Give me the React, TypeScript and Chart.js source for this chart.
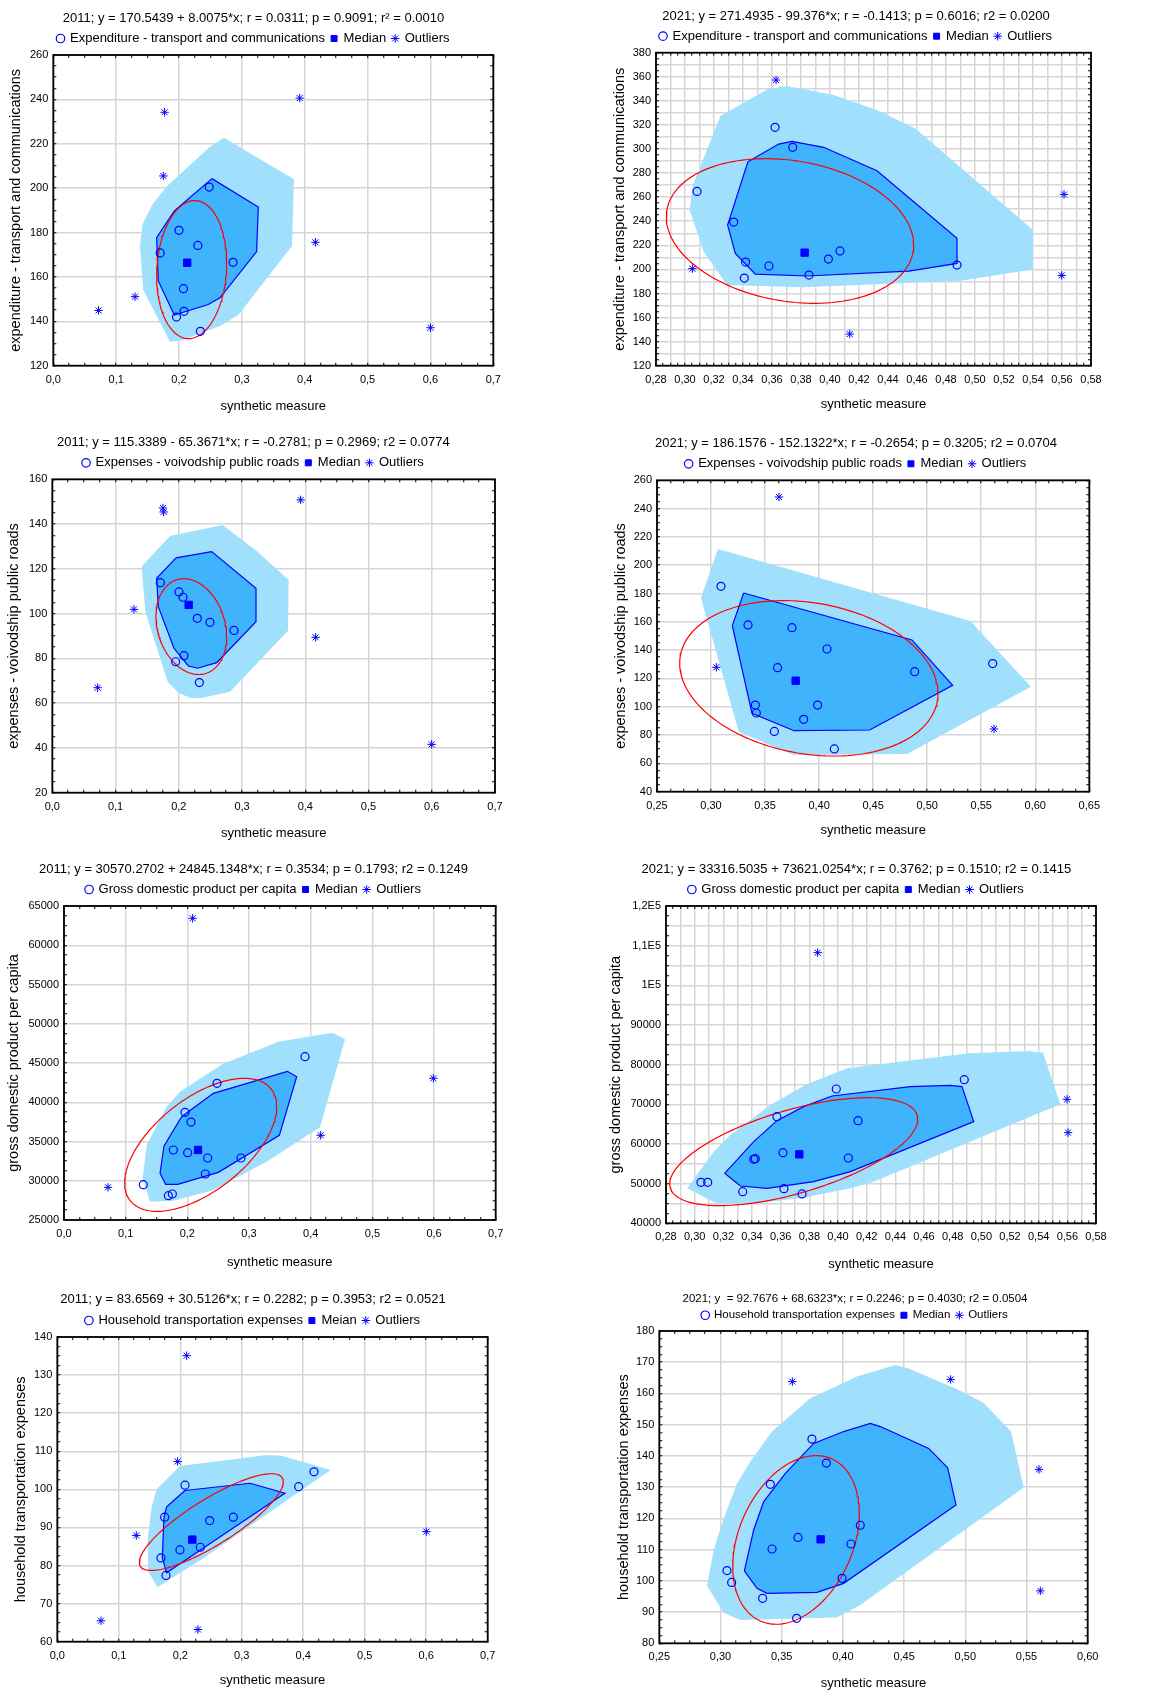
import React, { useEffect, useRef } from 'react';
import { Chart, registerables } from 'chart.js';

Chart.register(...registerables);
Chart.defaults.font.family = "'Liberation Sans', Arial, Helvetica, sans-serif";
Chart.defaults.color = '#000';

// ---------------- shared tick labels ----------------
const xTicks07 = ['0,0', '0,1', '0,2', '0,3', '0,4', '0,5', '0,6', '0,7'];
const xTicks2858 = ['0,28', '0,30', '0,32', '0,34', '0,36', '0,38', '0,40', '0,42', '0,44', '0,46', '0,48', '0,50', '0,52', '0,54', '0,56', '0,58'];
const xTicks2565 = ['0,25', '0,30', '0,35', '0,40', '0,45', '0,50', '0,55', '0,60', '0,65'];
const xTicks2560 = ['0,25', '0,30', '0,35', '0,40', '0,45', '0,50', '0,55', '0,60'];

const xTitle = 'synthetic measure';

// ---------------- Panel 1 (2011, transport & communications) ----------------
const p1Title = '2011; y = 170.5439 + 8.0075*x; r = 0.0311; p = 0.9091; r² = 0.0010';
const p1Series = 'Expenditure - transport and communications';
const p1YTitle = 'expenditure - transport and communications';
const p1YTicks = ['120', '140', '160', '180', '200', '220', '240', '260'];
const p1Points = [[0.248, 200.5], [0.2, 181.0], [0.23, 174.2], [0.17, 170.8], [0.286, 166.6], [0.207, 154.7], [0.208, 144.5], [0.196, 141.9], [0.234, 135.5]];
const p1Median = [0.213, 166.4];
const p1Outliers = [[0.177, 234.2], [0.392, 240.6], [0.175, 205.5], [0.417, 175.6], [0.13, 151.1], [0.072, 144.9], [0.6, 137.1]];
const p1Bag = [[0.2524, 204.3], [0.3261, 191.5], [0.3235, 171.4], [0.2652, 150.6], [0.2466, 147.6], [0.1925, 142.8], [0.167, 158.2], [0.1644, 177.7], [0.1925, 189.7]];
const p1Fence = [[0.2715, 222.7], [0.3829, 204.0], [0.3797, 173.9], [0.2943, 142.8], [0.2652, 137.9], [0.2042, 131.3], [0.1856, 130.8], [0.1432, 154.1], [0.1379, 173.6], [0.1416, 183.4], [0.158, 192.9], [0.1803, 200.7], [0.2492, 218.7]];
const p1Ellipse = [0.2201, 163.3, 0.2758, 166.1, 194.4];

// ---------------- Panel 2 (2021, transport & communications) ----------------
const p2Title = '2021; y = 271.4935 - 99.376*x; r = -0.1413; p = 0.6016; r2 = 0.0200';
const p2Series = 'Expenditure - transport and communications';
const p2YTitle = 'expenditure - transport and communications';
const p2YTicks = ['120', '140', '160', '180', '200', '220', '240', '260', '280', '300', '320', '340', '360', '380'];
const p2Points = [[0.3621, 318.0], [0.3743, 301.4], [0.3083, 264.8], [0.3336, 239.3], [0.3418, 206.1], [0.3579, 202.8], [0.3409, 192.8], [0.3855, 195.3], [0.3989, 208.6], [0.4069, 215.3], [0.4876, 203.6]];
const p2Median = [0.3825, 213.9];
const p2Outliers = [[0.3628, 357.3], [0.5614, 262.3], [0.3051, 200.6], [0.5598, 195.0], [0.4136, 146.3]];
const p2Bag = [[0.3434, 289.5], [0.3646, 304.1], [0.3738, 306.4], [0.3956, 301.4], [0.4324, 282.0], [0.4876, 225.8], [0.4876, 205.0], [0.4543, 198.6], [0.3841, 194.5], [0.3485, 196.1], [0.3347, 213.3], [0.3294, 236.8]];
const p2Fence = [[0.3244, 327.4], [0.3566, 349.5], [0.3703, 352.3], [0.4025, 344.8], [0.4324, 332.4], [0.4589, 317.1], [0.54, 232.7], [0.54, 200.0], [0.4899, 190.6], [0.3818, 185.1], [0.329, 187.0], [0.3129, 214.7], [0.3032, 249.3], [0.3051, 268.7]];
const p2Ellipse = [0.3724, 231.9, 0.4577, 220.2, 292.0];

// ---------------- Panel 3 (2011, voivodship public roads) ----------------
const p3Title = '2011; y = 115.3389 - 65.3671*x; r = -0.2781; p = 0.2969; r2 = 0.0774';
const p3Series = 'Expenses - voivodship public roads';
const p3YTitle = 'expenses - voivodship public roads';
const p3YTicks = ['20', '40', '60', '80', '100', '120', '140', '160'];
const p3Points = [[0.1708, 113.8], [0.2003, 109.7], [0.2066, 107.3], [0.2293, 97.9], [0.2493, 96.1], [0.2873, 92.5], [0.2082, 81.2], [0.195, 78.5], [0.2325, 69.2]];
const p3Median = [0.2156, 103.9];
const p3Outliers = [[0.175, 147.2], [0.176, 145.4], [0.3927, 150.8], [0.1291, 101.9], [0.4164, 89.4], [0.0717, 66.9], [0.5999, 41.6]];
const p3Bag = [[0.1956, 124.9], [0.252, 127.7], [0.3221, 111.3], [0.3221, 96.4], [0.2599, 78.1], [0.2298, 75.6], [0.2151, 76.6], [0.1924, 84.5], [0.1676, 103.1], [0.165, 115.8]];
const p3Fence = [[0.1413, 121.0], [0.1861, 134.7], [0.2694, 139.6], [0.3231, 128.0], [0.3737, 115.0], [0.3727, 92.4], [0.281, 65.1], [0.2335, 62.2], [0.2177, 62.4], [0.1993, 64.7], [0.1824, 69.6], [0.1471, 100.9]];
const p3Ellipse = [0.2198, 94.2, 0.2757, 89.7, 115.6];

// ---------------- Panel 4 (2021, voivodship public roads) ----------------
const p4Title = '2021; y = 186.1576 - 152.1322*x; r = -0.2654; p = 0.3205; r2 = 0.0704';
const p4Series = 'Expenses - voivodship public roads';
const p4YTitle = 'expenses - voivodship public roads';
const p4YTicks = ['40', '60', '80', '100', '120', '140', '160', '180', '200', '220', '240', '260'];
const p4Points = [[0.3092, 185.1], [0.3342, 157.8], [0.3749, 155.9], [0.4073, 140.8], [0.3616, 127.6], [0.4884, 124.8], [0.5606, 130.5], [0.341, 101.2], [0.3419, 95.6], [0.3986, 101.2], [0.3857, 91.1], [0.3586, 82.6], [0.4141, 70.2]];
const p4Median = [0.3783, 118.4];
const p4Outliers = [[0.3629, 248.2], [0.3049, 127.9], [0.5618, 84.3]];
const p4Bag = [[0.3302, 180.4], [0.4859, 147.2], [0.5236, 115.1], [0.4468, 83.6], [0.3768, 83.1], [0.3379, 95.4], [0.3197, 157.3]];
const p4Fence = [[0.3064, 211.5], [0.5399, 160.6], [0.596, 114.2], [0.4813, 66.6], [0.3764, 65.9], [0.3256, 82.4], [0.2907, 177.1]];
const p4Ellipse = [0.3905, 120.1, 0.51, 109.5, 175.0];

// ---------------- Panel 5 (2011, GDP per capita) ----------------
const p5Title = '2011; y = 30570.2702 + 24845.1348*x; r = 0.3534; p = 0.1793; r2 = 0.1249';
const p5Series = 'Gross domestic product per capita';
const p5YTitle = 'gross domestic product per capita';
const p5YTicks = ['25000', '30000', '35000', '40000', '45000', '50000', '55000', '60000', '65000'];
const p5Points = [[0.3908, 45800], [0.2481, 42410], [0.1962, 38720], [0.2059, 37480], [0.1773, 33920], [0.2005, 33580], [0.233, 32900], [0.287, 32900], [0.2292, 30860], [0.1286, 29500], [0.1692, 28100], [0.1757, 28310]];
const p5Median = [0.2173, 33920];
const p5Outliers = [[0.2086, 63430], [0.5989, 43050], [0.4162, 35790], [0.0714, 29160]];
const p5Bag = [[0.1557, 30945], [0.1649, 29544], [0.1843, 29544], [0.2503, 31072], [0.3492, 35786], [0.3773, 43259], [0.3622, 43939], [0.2422, 41136], [0.1908, 38164], [0.1622, 34427]];
const p5Fence = [[0.1341, 34554], [0.1276, 30308], [0.1395, 27335], [0.1773, 27463], [0.2422, 28822], [0.3286, 32431], [0.4151, 36805], [0.4557, 48015], [0.4357, 48864], [0.3476, 47718], [0.2573, 44873], [0.1881, 41348], [0.1665, 39437]];
const p5Ellipse = [0.2216, 34575, 0.3449, 39437, 43047];

// ---------------- Panel 6 (2021, GDP per capita) ----------------
const p6Title = '2021; y = 33316.5035 + 73621.0254*x; r = 0.3762; p = 0.1510; r2 = 0.1415';
const p6Series = 'Gross domestic product per capita';
const p6YTitle = 'gross domestic product per capita';
const p6YTicks = ['40000', '50000', '60000', '70000', '80000', '90000', '1E5', '1,1E5', '1,2E5'];
const p6Points = [[0.4881, 76220], [0.3988, 73860], [0.3574, 66890], [0.414, 65880], [0.3616, 57810], [0.3412, 56130], [0.3423, 56300], [0.4072, 56470], [0.3044, 50340], [0.3091, 50340], [0.3335, 47980], [0.3623, 48740], [0.3749, 47400]];
const p6Median = [0.373, 57390];
const p6Outliers = [[0.3858, 108230], [0.5598, 71260], [0.5605, 62860]];
const p6Bag = [[0.3209, 52605], [0.3319, 49411], [0.3505, 48823], [0.383, 50504], [0.4086, 53025], [0.4947, 65629], [0.4865, 74452], [0.4784, 74788], [0.4505, 74452], [0.3958, 72099], [0.376, 69411], [0.3574, 65881], [0.3412, 60587]];
const p6Fence = [[0.2947, 48823], [0.3144, 45210], [0.3365, 44874], [0.3737, 46302], [0.4086, 48823], [0.4249, 50504], [0.5551, 69999], [0.543, 83023], [0.533, 83444], [0.4912, 82855], [0.4063, 79074], [0.3772, 74872], [0.3528, 69831], [0.3249, 62268], [0.3133, 58066]];
const p6Ellipse = [0.3691, 58066, 0.4556, 66217, 71679];

// ---------------- Panel 7 (2011, household transportation) ----------------
const p7Title = '2011; y = 83.6569 + 30.5126*x; r = 0.2282; p = 0.3953; r2 = 0.0521';
const p7Series = 'Household transportation expenses';
const p7MedianLabel = 'Meian';
const p7YTitle = 'household transportation expenses';
const p7YTicks = ['60', '70', '80', '90', '100', '110', '120', '130', '140'];
const p7Points = [[0.4175, 104.6], [0.3926, 100.7], [0.2077, 101.1], [0.1746, 92.7], [0.2478, 91.8], [0.2863, 92.7], [0.2326, 84.8], [0.1995, 84.1], [0.1686, 82.0], [0.1768, 77.4]];
const p7Median = [0.2196, 86.8];
const p7Outliers = [[0.2104, 135.1], [0.1957, 107.3], [0.1285, 87.9], [0.6002, 88.9], [0.071, 65.5], [0.2288, 63.2]];
const p7Bag = [[0.2077, 99.7], [0.3134, 101.6], [0.3703, 99.0], [0.1778, 78.1], [0.1708, 82.0], [0.1735, 92.8], [0.1778, 95.4]];
const p7Fence = [[0.1616, 100.0], [0.1995, 106.1], [0.3405, 109.0], [0.3649, 108.8], [0.4446, 105.1], [0.2375, 81.9], [0.1627, 74.3], [0.148, 78.4], [0.1469, 86.7], [0.1534, 95.4]];
const p7Ellipse = [0.2505, 91.4, 0.3676, 102.0, 104.1];

// ---------------- Panel 8 (2021, household transportation) ----------------
const p8Title = '2021; y  = 92.7676 + 68.6323*x; r = 0.2246; p = 0.4030; r2 = 0.0504';
const p8Series = 'Household transportation expenses';
const p8YTitle = 'household transportation expenses';
const p8YTicks = ['80', '90', '100', '110', '120', '130', '140', '150', '160', '170', '180'];
const p8Points = [[0.3747, 145.4], [0.3865, 137.7], [0.3407, 130.9], [0.4142, 117.8], [0.3633, 113.9], [0.3421, 110.2], [0.4066, 111.8], [0.3053, 103.3], [0.3091, 99.5], [0.3993, 100.8], [0.3344, 94.4], [0.3622, 88.0]];
const p8Median = [0.3818, 113.3];
const p8Outliers = [[0.3587, 163.8], [0.488, 164.5], [0.5602, 135.7], [0.5613, 96.8]];
const p8Bag = [[0.3353, 125.4], [0.353, 134.4], [0.3761, 144.0], [0.4006, 147.8], [0.4224, 150.4], [0.4306, 149.4], [0.4701, 142.4], [0.4856, 136.2], [0.4924, 124.3], [0.4006, 99.2], [0.3788, 96.3], [0.338, 96.0], [0.3298, 97.6], [0.3195, 103.2], [0.3271, 116.3]];
const p8Fence = [[0.289, 98.4], [0.3026, 89.8], [0.3162, 87.5], [0.3952, 88.3], [0.4142, 92.3], [0.5477, 129.9], [0.5374, 147.8], [0.5145, 157.1], [0.4919, 161.6], [0.4537, 168.0], [0.4428, 169.1], [0.4115, 165.4], [0.3728, 158.3], [0.3421, 147.8], [0.3244, 138.2], [0.3135, 131.2], [0.3026, 120.0], [0.2944, 109.9]];
const p8Ellipse = [0.3617, 113.1, 0.4134, 121.6, 140.1];

// ---------------- types ----------------
type PanelData = {
  title: string; series: string; medianLabel: string; yTitle: string;
  xTicks: string[]; yTicks: string[];
  points: number[][]; median: number[]; outliers: number[][];
  bag: number[][]; fence: number[][]; ellipse: number[];
};
// range = [min, max, tick-mark step, grid-line step]
type PanelLayout = {
  left: number; top: number; width: number; height: number;
  L: number; R: number; T: number; B: number;
  Tc: number; Xc: number; Yc: number; center: number;
  titleSize: number; legendSize: number;
  xRange: number[]; yRange: number[];
};

const panels: PanelData[] = [
  { title: p1Title, series: p1Series, medianLabel: 'Median', yTitle: p1YTitle, xTicks: xTicks07, yTicks: p1YTicks, points: p1Points, median: p1Median, outliers: p1Outliers, bag: p1Bag, fence: p1Fence, ellipse: p1Ellipse },
  { title: p2Title, series: p2Series, medianLabel: 'Median', yTitle: p2YTitle, xTicks: xTicks2858, yTicks: p2YTicks, points: p2Points, median: p2Median, outliers: p2Outliers, bag: p2Bag, fence: p2Fence, ellipse: p2Ellipse },
  { title: p3Title, series: p3Series, medianLabel: 'Median', yTitle: p3YTitle, xTicks: xTicks07, yTicks: p3YTicks, points: p3Points, median: p3Median, outliers: p3Outliers, bag: p3Bag, fence: p3Fence, ellipse: p3Ellipse },
  { title: p4Title, series: p4Series, medianLabel: 'Median', yTitle: p4YTitle, xTicks: xTicks2565, yTicks: p4YTicks, points: p4Points, median: p4Median, outliers: p4Outliers, bag: p4Bag, fence: p4Fence, ellipse: p4Ellipse },
  { title: p5Title, series: p5Series, medianLabel: 'Median', yTitle: p5YTitle, xTicks: xTicks07, yTicks: p5YTicks, points: p5Points, median: p5Median, outliers: p5Outliers, bag: p5Bag, fence: p5Fence, ellipse: p5Ellipse },
  { title: p6Title, series: p6Series, medianLabel: 'Median', yTitle: p6YTitle, xTicks: xTicks2858, yTicks: p6YTicks, points: p6Points, median: p6Median, outliers: p6Outliers, bag: p6Bag, fence: p6Fence, ellipse: p6Ellipse },
  { title: p7Title, series: p7Series, medianLabel: p7MedianLabel, yTitle: p7YTitle, xTicks: xTicks07, yTicks: p7YTicks, points: p7Points, median: p7Median, outliers: p7Outliers, bag: p7Bag, fence: p7Fence, ellipse: p7Ellipse },
  { title: p8Title, series: p8Series, medianLabel: 'Median', yTitle: p8YTitle, xTicks: xTicks2560, yTicks: p8YTicks, points: p8Points, median: p8Median, outliers: p8Outliers, bag: p8Bag, fence: p8Fence, ellipse: p8Ellipse },
];

const layouts: PanelLayout[] = [
  { left: 0, top: 0, width: 587, height: 420, L: 53.3, R: 493.3, T: 55, B: 365.7, Tc: 18, Xc: 406, Yc: 16, center: 253.5, titleSize: 13, legendSize: 13, xRange: [0, 0.7, 0.025, 0.1], yRange: [120, 260, 5, 20] },
  { left: 587, top: 0, width: 587, height: 420, L: 69, R: 504, T: 52.7, B: 365.7, Tc: 16, Xc: 404, Yc: 33.3, center: 269, titleSize: 13, legendSize: 13, xRange: [0.28, 0.58, 0.005, 0.01], yRange: [120, 380, 5, 10] },
  { left: 0, top: 420, width: 587, height: 430, L: 52.3, R: 495, T: 59.3, B: 372.7, Tc: 22, Xc: 413, Yc: 14, center: 253.4, titleSize: 13, legendSize: 13, xRange: [0, 0.7, 0.025, 0.1], yRange: [20, 160, 5, 20] },
  { left: 587, top: 420, width: 587, height: 430, L: 70, R: 502.3, T: 60.3, B: 371.7, Tc: 23, Xc: 410, Yc: 34.3, center: 269, titleSize: 13, legendSize: 13, xRange: [0.25, 0.65, 0.0125, 0.05], yRange: [40, 260, 5, 20] },
  { left: 0, top: 850, width: 587, height: 430, L: 64, R: 495.7, T: 56, B: 370, Tc: 19, Xc: 412, Yc: 14.3, center: 253.5, titleSize: 13, legendSize: 13, xRange: [0, 0.7, 0.025, 0.1], yRange: [25000, 65000, 1250, 5000] },
  { left: 587, top: 850, width: 587, height: 430, L: 79, R: 509, T: 56, B: 373.3, Tc: 19, Xc: 414, Yc: 29.3, center: 269.3, titleSize: 13, legendSize: 13, xRange: [0.28, 0.58, 0.005, 0.01], yRange: [40000, 120000, 2500, 5000] },
  { left: 0, top: 1280, width: 587, height: 410, L: 57.3, R: 487.7, T: 57, B: 361.7, Tc: 19, Xc: 400, Yc: 21, center: 253, titleSize: 13, legendSize: 13, xRange: [0, 0.7, 0.025, 0.1], yRange: [60, 140, 2.5, 10] },
  { left: 587, top: 1280, width: 587, height: 410, L: 72.3, R: 500.7, T: 51, B: 363.3, Tc: 19, Xc: 403, Yc: 36.7, center: 268, titleSize: 11.5, legendSize: 11.5, xRange: [0.25, 0.6, 0.0125, 0.05], yRange: [80, 180, 2.5, 10] },
];

// ---------------- styles ----------------
const BLUE = '#0000ff';
const RED = '#ff0000';
const BAG = '#3fb4fc';
const FENCE = '#a0e0fc';
const GRID = '#d6d6d6';
const NONE = 'rgba(0,0,0,0)';
const TICK_LEN = -3; // inward tick marks
const X_TITLE_SIZE = 13;
const Y_TITLE_SIZE = 14.5;

const toXY = (pts: number[][]) => pts.map(([x, y]) => ({ x, y }));
const closed = (pts: number[][]) => toXY([...pts, pts[0]]);
// ellipse given centre (cx, cy), its rightmost point (rx, ry) and its top y
const ellipsePath = (e: number[]) => {
  const [cx, cy, rx, ry, top] = e;
  const a = rx - cx;
  const b = ry - cy;
  const d = Math.sqrt(Math.max((top - cy) ** 2 - b * b, 0));
  const out: { x: number; y: number }[] = [];
  for (let i = 0; i <= 144; i++) {
    const t = (i / 144) * Math.PI * 2;
    out.push({ x: cx + a * Math.cos(t), y: cy + b * Math.cos(t) + d * Math.sin(t) });
  }
  return out;
};

const framePlugin = {
  id: 'frame',
  afterDraw(chart: any) {
    const { ctx, chartArea: a } = chart;
    ctx.save();
    ctx.strokeStyle = '#000';
    ctx.lineWidth = 1.8;
    ctx.strokeRect(a.left, a.top, a.right - a.left, a.bottom - a.top);
    ctx.restore();
  },
};

function axisOptions(range: number[], labels: string[], pad: number, fit: (s: any) => void, main: boolean) {
  const [min, max, tickStep, gridStep] = range;
  const major = (max - min) / (labels.length - 1);
  const labRatio = Math.round(major / tickStep);
  const gridRatio = Math.round(gridStep / tickStep);
  const n = Math.round((max - min) / tickStep);
  const idxOf = (v: number) => Math.round((v - min) / tickStep);
  return {
    type: 'linear',
    min,
    max,
    afterBuildTicks: (s: any) => {
      const t: { value: number }[] = [];
      for (let i = 0; i <= n; i++) t.push({ value: +(min + i * tickStep).toFixed(6) });
      s.ticks = t;
    },
    afterFit: fit,
    ticks: {
      display: main,
      autoSkip: false,
      maxRotation: 0,
      minRotation: 0,
      padding: pad,
      color: '#000',
      font: { size: 11 },
      callback: (v: any) => {
        const i = idxOf(Number(v));
        return i % labRatio === 0 ? labels[i / labRatio] : '';
      },
    },
    grid: {
      drawOnChartArea: main,
      color: (c: any) => (!c.tick || idxOf(c.tick.value) % gridRatio === 0 ? GRID : NONE),
      lineWidth: 1.5,
      drawTicks: true,
      tickLength: TICK_LEN,
      tickColor: '#000',
      tickWidth: 1,
    },
    border: { display: false },
  };
}

function buildConfig(d: PanelData, l: PanelLayout): any {
  const lh = (s: number) => s * 1.2;
  const padLeft = 2 * l.center - l.R;
  const padRight = l.width - l.R;
  const yWidth = l.L - padLeft;
  const legendPad = 6;
  const legendTop = l.T - 10 - l.legendSize - legendPad;
  const padTop = l.Tc - lh(l.titleSize) / 2;
  const titlePadBottom = legendTop - padTop - lh(l.titleSize);
  const xHeight = l.height - l.B;
  const xTitlePad = l.height - lh(X_TITLE_SIZE) / 2 - l.Xc;
  const yTitlePad = l.Yc - padLeft - lh(Y_TITLE_SIZE) / 2;

  const xAxis: any = axisOptions(l.xRange, d.xTicks, 10.5, (s: any) => { s.height = xHeight; }, true);
  xAxis.position = 'bottom';
  xAxis.title = { display: true, text: xTitle, color: '#000', font: { size: X_TITLE_SIZE }, padding: { top: 0, bottom: xTitlePad } };
  const yAxis: any = axisOptions(l.yRange, d.yTicks, 8, (s: any) => { s.width = yWidth; }, true);
  yAxis.position = 'left';
  yAxis.title = { display: true, text: d.yTitle, color: '#000', font: { size: Y_TITLE_SIZE }, padding: { top: yTitlePad, bottom: 0 } };
  const xTop: any = axisOptions(l.xRange, d.xTicks, 0, (s: any) => { s.height = 0; }, false);
  xTop.position = 'top';
  const yRight: any = axisOptions(l.yRange, d.yTicks, 0, (s: any) => { s.width = 0; }, false);
  yRight.position = 'right';

  return {
    type: 'scatter',
    data: {
      datasets: [
        { type: 'scatter', label: d.series, data: toXY(d.points), order: 0, pointStyle: 'circle', pointRadius: 4, pointBorderWidth: 1.2, pointBorderColor: BLUE, pointBackgroundColor: NONE, borderColor: BLUE, backgroundColor: NONE },
        { type: 'scatter', label: d.medianLabel, data: toXY([d.median]), order: 1, pointStyle: 'rect', pointRadius: 5.2, pointBorderWidth: 1, pointBorderColor: BLUE, pointBackgroundColor: BLUE, borderColor: BLUE, backgroundColor: BLUE },
        { type: 'scatter', label: 'Outliers', data: toXY(d.outliers), order: 2, pointStyle: 'star', pointRadius: 4.2, pointBorderWidth: 1, pointBorderColor: BLUE, pointBackgroundColor: BLUE, borderColor: BLUE, backgroundColor: BLUE },
        { type: 'line', label: 'ellipse', data: ellipsePath(d.ellipse), order: 3, borderColor: RED, borderWidth: 1.2, pointRadius: 0, fill: false, tension: 0 },
        { type: 'line', label: 'bag', data: closed(d.bag), order: 4, borderColor: BLUE, borderWidth: 1.2, backgroundColor: BAG, fill: 'shape', pointRadius: 0, tension: 0 },
        { type: 'line', label: 'fence', data: closed(d.fence), order: 5, borderColor: NONE, borderWidth: 0, backgroundColor: FENCE, fill: 'shape', pointRadius: 0, tension: 0 },
      ],
    },
    options: {
      animation: false,
      responsive: false,
      devicePixelRatio: 1,
      events: [],
      layout: { padding: { top: padTop, left: padLeft, right: padRight, bottom: 0 } },
      scales: { x: xAxis, y: yAxis, xTop, yRight },
      plugins: {
        tooltip: { enabled: false },
        title: {
          display: true,
          text: d.title,
          color: '#000',
          font: { size: l.titleSize, weight: 'normal' },
          padding: { top: 0, bottom: titlePadBottom },
        },
        legend: {
          display: true,
          position: 'top',
          labels: {
            usePointStyle: true,
            boxWidth: 6,
            boxHeight: 6,
            padding: legendPad,
            color: '#000',
            font: { size: l.legendSize },
            filter: (item: any) => item.datasetIndex < 3,
          },
        },
      },
    },
    plugins: [framePlugin],
  };
}

function Panel({ d, l }: { d: PanelData; l: PanelLayout }) {
  const ref = useRef<HTMLCanvasElement>(null);
  useEffect(() => {
    const canvas = ref.current;
    if (!canvas) return;
    const chart = new Chart(canvas, buildConfig(d, l));
    return () => chart.destroy();
  }, [d, l]);
  return (
    <canvas
      ref={ref}
      width={l.width}
      height={l.height}
      style={{ position: 'absolute', left: l.left, top: l.top, width: l.width, height: l.height }}
    />
  );
}

export default function App() {
  return (
    <div style={{ position: 'absolute', left: 0, top: 0, width: 1174, height: 1690, background: '#fff' }}>
      {panels.map((d, i) => (
        <Panel key={i} d={d} l={layouts[i]} />
      ))}
    </div>
  );
}
